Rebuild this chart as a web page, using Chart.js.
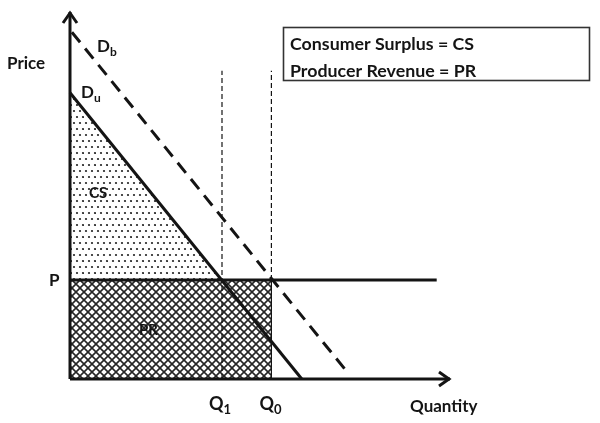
<!DOCTYPE html>
<html>
<head>
<meta charset="utf-8">
<script src="https://cdn.jsdelivr.net/npm/chart.js@4"></script>
<style>
  html, body { margin: 0; padding: 0; background: #fff; }
  #wrap { width: 600px; height: 423px; position: relative; }
</style>
</head>
<body>
<div id="wrap"><canvas id="chart"></canvas></div>
<script>
// Market diagram: demand curves, price level, surplus/revenue areas

const priceLevel = 2.7;
const qty1 = 4.0;
const qty0 = 5.3;
const axisMax = [10, 10];            // quantity max, price max

const duX = [0, 6.1];
const duY = [7.8, 0];
const dbX = [0.05, 7.35];
const dbY = [9.45, 0.12];

const csX = [0, 3.99];               // consumer surplus top edge (along Du)
const csY = [7.8, priceLevel];
const priceLineX = [0, 9.65];
const guideTop = 8.4;

const legendLines = ['Consumer Surplus = CS', 'Producer Revenue = PR'];

const ink = '#141414';
const FONT = 'Lato, "Open Sans", sans-serif';

function pts(xs, ys) {
    return xs.map((x, i) => ({ x: x, y: ys[i] }));
}

function dotPattern() {
    const c = document.createElement('canvas');
    c.width = 12; c.height = 12;
    const g = c.getContext('2d');
    g.fillStyle = '#fff';
    g.fillRect(0, 0, 12, 12);
    g.fillStyle = '#222';
    [[2, 3], [8, 3], [5, 9], [11, 9]].forEach(([x, y]) => {
        g.beginPath(); g.arc(x, y, 1.1, 0, Math.PI * 2); g.fill();
    });
    return g.createPattern(c, 'repeat');
}

function hatchPattern() {
    const s = 8;
    const c = document.createElement('canvas');
    c.width = s; c.height = s;
    const g = c.getContext('2d');
    g.fillStyle = '#fff';
    g.fillRect(0, 0, s, s);
    g.strokeStyle = '#262626';
    g.lineWidth = 1.6;
    g.beginPath();
    g.moveTo(-1, -1); g.lineTo(s + 1, s + 1);
    g.moveTo(s + 1, -1); g.lineTo(-1, s + 1);
    g.stroke();
    return g.createPattern(c, 'repeat');
}

function sub(ctx, main, small, x, y, size) {
    ctx.font = 'bold ' + size + 'px ' + FONT;
    ctx.fillText(main, x, y);
    const w = ctx.measureText(main).width;
    ctx.font = 'bold ' + Math.round(size * 0.7) + 'px ' + FONT;
    ctx.fillText(small, x + w, y + size * 0.3);
}

const annotations = {
    id: 'annotations',
    afterDatasetsDraw(chart) {
        const { ctx, scales: { x, y } } = chart;
        const px = v => x.getPixelForValue(v);
        const py = v => y.getPixelForValue(v);
        ctx.save();
        ctx.fillStyle = ink;
        ctx.strokeStyle = ink;

        // arrowheads
        ctx.lineWidth = 3;
        ctx.lineJoin = 'miter';
        const tx = px(0), ty = py(axisMax[1]);
        ctx.beginPath();
        ctx.moveTo(tx - 7, ty + 11); ctx.lineTo(tx, ty + 1); ctx.lineTo(tx + 7, ty + 11);
        ctx.stroke();
        const rx = px(axisMax[0]), ry = py(0);
        ctx.beginPath();
        ctx.moveTo(rx - 11, ry - 7); ctx.lineTo(rx - 1, ry); ctx.lineTo(rx - 11, ry + 7);
        ctx.stroke();

        ctx.textBaseline = 'middle';
        ctx.textAlign = 'left';
        ctx.font = 'bold 17px ' + FONT;
        ctx.fillText('Price', 7, 64);
        ctx.fillText('P', 49, py(priceLevel) + 1);
        ctx.fillText('Quantity', 410, 407);
        sub(ctx, 'Q', '1', px(qty1) - 13, 404, 18);
        sub(ctx, 'Q', '0', px(qty0) - 12, 404, 18);
        sub(ctx, 'D', 'b', 97, 47, 17);
        sub(ctx, 'D', 'u', 81, 93, 17);
        ctx.font = 'bold 15px ' + FONT;
        ctx.fillText('CS', 89, 193);
        ctx.fillText('PR', 139, 330);

        // legend box
        ctx.fillStyle = '#fff';
        ctx.fillRect(283, 27, 307, 54);
        ctx.lineWidth = 1.6;
        ctx.strokeStyle = '#333';
        ctx.strokeRect(283.5, 27.5, 306, 53);
        ctx.fillStyle = ink;
        ctx.font = 'bold 17.8px ' + FONT;
        legendLines.forEach((t, i) => ctx.fillText(t, 290, 44 + i * 27));
        ctx.restore();
    }
};

const base = { showLine: true, pointRadius: 0, borderColor: ink, clip: false, fill: false };

// first dataset is drawn on top, so outlines go first and area fills last
new Chart(document.getElementById('chart'), {
    type: 'scatter',
    data: {
        datasets: [
            { ...base, data: pts([0, 0], [0, axisMax[1]]), borderWidth: 3 },
            { ...base, data: pts([0, axisMax[0]], [0, 0]), borderWidth: 3 },
            { ...base, data: pts(dbX, dbY), borderWidth: 3, borderDash: [13, 8] },
            { ...base, data: pts(duX, duY), borderWidth: 3 },
            { ...base, data: pts(priceLineX, [priceLevel, priceLevel]), borderWidth: 3 },
            { ...base, data: pts([qty1, qty1], [0, guideTop]), borderWidth: 1.2, borderDash: [5, 3] },
            { ...base, data: pts([qty0, qty0], [priceLevel, guideTop]), borderWidth: 1.2, borderDash: [5, 3] },
            { ...base, data: pts([qty0, qty0], [0, priceLevel]), borderWidth: 1.2 },
            { ...base, data: pts(csX, csY), borderWidth: 0,
              fill: { value: priceLevel }, backgroundColor: dotPattern() },
            { ...base, data: pts([0, qty0], [priceLevel, priceLevel]), borderWidth: 0,
              fill: 'origin', backgroundColor: hatchPattern() }
        ]
    },
    options: {
        responsive: true,
        maintainAspectRatio: false,
        animation: false,
        layout: { padding: { left: 70, top: 12, right: 150, bottom: 44 } },
        plugins: { legend: { display: false }, tooltip: { enabled: false } },
        scales: {
            x: { type: 'linear', min: 0, max: axisMax[0], display: false },
            y: { type: 'linear', min: 0, max: axisMax[1], display: false }
        }
    },
    plugins: [annotations]
});
</script>
</body>
</html>
